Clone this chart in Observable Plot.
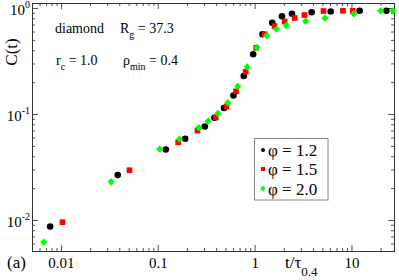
<!DOCTYPE html>
<html><head><meta charset="utf-8">
<script src="https://cdn.jsdelivr.net/npm/d3@7"></script>
<script src="https://cdn.jsdelivr.net/npm/@observablehq/plot@0.6"></script>
<style>body{margin:0;background:#fff} #chart{width:399px;height:280px}</style>
</head><body><div id="chart"></div>
<script>
const seriesNames = ["φ = 1.2", "φ = 1.5", "φ = 2.0"];
const t12 = [0.00764, 0.0381, 0.1194, 0.1895, 0.302, 0.380, 0.477, 0.597, 0.763, 0.954, 1.191, 1.503, 1.894, 2.402, 3.836, 6.03, 12.01, 22.7];
const c12 = [0.00878, 0.0268, 0.0468, 0.0590, 0.0770, 0.0931, 0.1151, 0.1511, 0.2307, 0.3705, 0.572, 0.7345, 0.846, 0.891, 0.923, 0.937, 0.951, 0.951];
const t15 = [0.01024, 0.0504, 0.1604, 0.2538, 0.392, 0.506, 0.635, 0.799, 1.025, 1.258, 1.591, 2.018, 2.561, 3.233, 5.08, 8.075, 10.19];
const c15 = [0.00964, 0.0298, 0.0548, 0.0706, 0.0937, 0.119, 0.1655, 0.2533, 0.4258, 0.572, 0.684, 0.754, 0.814, 0.868, 0.947, 0.951, 0.951];
const t20 = [0.00657, 0.0326, 0.1035, 0.1654, 0.262, 0.327, 0.413, 0.522, 0.662, 0.828, 1.045, 1.319, 1.661, 2.097, 3.327, 5.264, 10.42, 19.79, 26.5];
const c20 = [0.00624, 0.0232, 0.0471, 0.0585, 0.0751, 0.0865, 0.1022, 0.1292, 0.1845, 0.2806, 0.4286, 0.554, 0.638, 0.691, 0.759, 0.810, 0.891, 0.951, 0.951];

const xMajor = [0.01, 0.1, 1, 10];
const xMajorLabels = ["0.01", "0.1", "1", "10"];
const xMinor = [0.006,0.007,0.008,0.009, 0.02,0.03,0.04,0.05,0.06,0.07,0.08,0.09, 0.2,0.3,0.4,0.5,0.6,0.7,0.8,0.9, 2,3,4,5,6,7,8,9, 20];
const yMajor = [0.01, 0.1, 1];
const yMajorExp = ["-2", "-1", "0"];
const yMinor = [0.006,0.007,0.008,0.009, 0.02,0.03,0.04,0.05,0.06,0.07,0.08,0.09, 0.2,0.3,0.4,0.5,0.6,0.7,0.8,0.9];

const toRows = (ts, cs, s) => ts.map((t, i) => ({t, c: cs[i], s}));
const rows12 = toRows(t12, c12, seriesNames[0]);
const rows15 = toRows(t15, c15, seriesNames[1]);
const rows20 = toRows(t20, c20, seriesNames[2]);

const W = 399, H = 280, mL = 32, mR = 5, mT = 3, mB = 29;
const iw = W - mL - mR, ih = H - mT - mB;
const tc = "#555";
const FONT = "'Liberation Serif', 'Times New Roman', serif";

const chart = Plot.plot({
  width: W, height: H, marginLeft: mL, marginRight: mR, marginTop: mT, marginBottom: mB,
  style: {fontFamily: FONT, fontSize: "16px", background: "#fff", color: "#000"},
  x: {type: "log", domain: [0.00502, 27.5]},
  y: {type: "log", domain: [0.0051, 1.115], axis: null},
  marks: [
    Plot.ruleY(yMajor, {y: d => d, insetRight: iw - 6, stroke: tc}),
    Plot.ruleY(yMajor, {y: d => d, insetLeft: iw - 6, stroke: tc}),
    Plot.ruleY(yMinor, {y: d => d, insetRight: iw - 3, stroke: tc}),
    Plot.ruleY(yMinor, {y: d => d, insetLeft: iw - 3, stroke: tc}),
    Plot.ruleX(xMajor, {x: d => d, insetTop: ih - 6, stroke: tc}),
    Plot.ruleX(xMajor, {x: d => d, insetBottom: ih - 6, stroke: tc}),
    Plot.ruleX(xMinor, {x: d => d, insetTop: ih - 3, stroke: tc}),
    Plot.ruleX(xMinor, {x: d => d, insetBottom: ih - 3, stroke: tc}),
    Plot.frame({stroke: "#333"}),
    Plot.axisX(xMajor, {tickSize: 0, tickPadding: 6, tickFormat: d => xMajorLabels[xMajor.indexOf(d)], label: null, fontSize: 15}),
    Plot.dot(rows12, {x: "t", y: "c", r: 3.3, fill: "black", symbol: "circle"}),
    Plot.dot(rows15, {x: "t", y: "c", r: 3.2, fill: "#ff0000", symbol: "square"}),
    Plot.dot(rows20, {x: "t", y: "c", r: 3.3, fill: "#00ff00", symbol: "diamond2"})
  ]
});
document.getElementById("chart").appendChild(chart);

const svg = d3.select(chart);
const ys = chart.scale("y");

function rich(x, y, parts, size, anchor = "start", transform = null) {
  const t = svg.append("text").attr("x", x).attr("y", y)
    .style("font-family", FONT).attr("font-size", size).attr("fill", "#000")
    .attr("text-anchor", anchor);
  if (transform) t.attr("transform", transform).attr("x", 0).attr("y", 0);
  let shift = 0;
  parts.forEach(([txt, kind, sz, off]) => {
    const target = kind === "sub" ? off : kind === "sup" ? -off : 0;
    const ts = t.append("tspan").attr("dy", target - shift).text(txt);
    if (sz) ts.attr("font-size", sz);
    shift = target;
  });
  return t;
}

yMajor.forEach((v, i) => {
  rich(30, ys.apply(v) + 7, [["10", "n"], [yMajorExp[i], "sup", 10, 7]], 15, "end");
});

rich(55, 33, [["diamond", "n"]], 14);
rich(120, 33, [["R", "n"], ["g", "sub", 10, 5], [" = 37.3", "n"]], 14);
rich(56, 65, [["r", "n"], ["c", "sub", 10, 5], [" = 1.0", "n"]], 14);
rich(123, 65, [["ρ", "n"], ["min", "sub", 10, 5], [" = 0.4", "n"]], 14);

rich(0, 0, [["C(t)", "n"]], 17, "middle", "translate(17,52) rotate(-90)");
rich(285, 268, [["t/τ", "n"], ["0.4", "sub", 13, 8]], 17);
rich(7, 268, [["(a)", "n"]], 17);

const lg = svg.append("g");
lg.append("rect").attr("x", 254.5).attr("y", 138.5).attr("width", 73.5).attr("height", 61.5)
  .attr("fill", "#fff").attr("stroke", "#888");
const legSym = [[d3.symbolCircle, 13, "black"], [d3.symbolSquare, 16, "#ff0000"], [d3.symbolDiamond2, 18, "#00ff00"]];
const rowY = [150, 169, 188.5];
seriesNames.forEach((name, i) => {
  lg.append("path").attr("d", d3.symbol(legSym[i][0], legSym[i][1])())
    .attr("transform", `translate(263,${rowY[i]})`).attr("fill", legSym[i][2]);
  rich(268, rowY[i] + 6, [[name, "n"]], 17);
});
</script>
</body></html>
